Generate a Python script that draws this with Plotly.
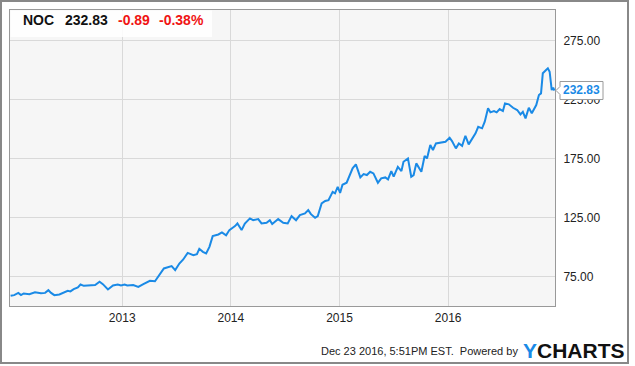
import plotly.graph_objects as go

# ---- data ----
dates = [
    "2011-12-23", "2012-01-04", "2012-01-18", "2012-01-27", "2012-02-05", "2012-02-24",
    "2012-03-14", "2012-04-03", "2012-04-17", "2012-04-28", "2012-05-07", "2012-05-18",
    "2012-06-04", "2012-06-21", "2012-07-02", "2012-07-11", "2012-07-22", "2012-08-05",
    "2012-08-14", "2012-08-25", "2012-09-07", "2012-10-02", "2012-10-17", "2012-10-28",
    "2012-11-14", "2012-12-01", "2012-12-17", "2012-12-28", "2013-01-09", "2013-01-18",
    "2013-02-07", "2013-02-24", "2013-03-13", "2013-04-04", "2013-04-21", "2013-05-06",
    "2013-05-21", "2013-06-16", "2013-06-28", "2013-07-12", "2013-07-25", "2013-08-09",
    "2013-08-28", "2013-09-09", "2013-09-17", "2013-09-29", "2013-10-10", "2013-10-21",
    "2013-11-01", "2013-11-20", "2013-12-02", "2013-12-16", "2013-12-27", "2014-01-15",
    "2014-01-23", "2014-02-06", "2014-02-17", "2014-03-06", "2014-03-17", "2014-04-03",
    "2014-04-14", "2014-05-01", "2014-05-12", "2014-05-20", "2014-06-09", "2014-06-26",
    "2014-07-11", "2014-07-24", "2014-08-08", "2014-08-21", "2014-09-07", "2014-09-18",
    "2014-09-27", "2014-10-11", "2014-10-20", "2014-11-02", "2014-11-14", "2014-11-25",
    "2014-11-30", "2014-12-09", "2014-12-17", "2014-12-26", "2015-01-03", "2015-01-11",
    "2015-01-25", "2015-02-06", "2015-02-14", "2015-02-25", "2015-03-12", "2015-03-23",
    "2015-04-03", "2015-04-14", "2015-04-25", "2015-05-10", "2015-05-21", "2015-06-04",
    "2015-06-13", "2015-06-24", "2015-07-02", "2015-07-16", "2015-07-28", "2015-08-04",
    "2015-08-19", "2015-08-30", "2015-09-07", "2015-09-16", "2015-10-03", "2015-10-14",
    "2015-10-22", "2015-11-02", "2015-11-11", "2015-11-21", "2015-12-11", "2015-12-23",
    "2016-01-06", "2016-01-14", "2016-01-27", "2016-02-06", "2016-02-17", "2016-02-28",
    "2016-03-10", "2016-03-24", "2016-04-02", "2016-04-11", "2016-04-24", "2016-05-03",
    "2016-05-14", "2016-05-22", "2016-06-03", "2016-06-12", "2016-06-22", "2016-07-03",
    "2016-07-10", "2016-07-23", "2016-08-06", "2016-08-20", "2016-08-31", "2016-09-08",
    "2016-09-17", "2016-09-28", "2016-10-08", "2016-10-23", "2016-11-01", "2016-11-08",
    "2016-11-14", "2016-11-25", "2016-12-01", "2016-12-07", "2016-12-14", "2016-12-19",
    "2016-12-23",
]
prices = [
    58.9, 59.5, 61.4, 59.5, 60.9, 60.3, 62.0, 61.2, 61.4, 63.7, 61.4, 59.5,
    60.1, 62.0, 63.2, 62.7, 64.6, 66.0, 68.5, 67.4, 67.7, 68.0, 70.8, 68.8,
    64.3, 67.7, 68.5, 67.7, 68.5, 67.7, 68.0, 66.5, 68.8, 71.6, 71.3, 76.4,
    82.1, 84.1, 80.7, 86.3, 89.7, 95.3, 93.4, 94.2, 98.7, 96.2, 94.8, 100.4,
    109.5, 110.9, 112.6, 110.1, 114.6, 118.0, 120.2, 114.6, 120.2, 124.5, 123.0, 123.9,
    120.2, 120.8, 123.0, 119.7, 123.9, 120.8, 120.2, 126.4, 123.0, 127.3, 128.7, 131.5,
    128.1, 125.0, 126.4, 137.2, 139.2, 140.0, 142.8, 147.0, 145.7, 151.3, 146.0, 153.0,
    154.7, 161.2, 166.9, 170.2, 159.2, 162.0, 161.2, 164.0, 162.6, 154.7, 158.4, 159.2,
    157.5, 164.6, 159.8, 168.2, 164.6, 172.5, 175.3, 159.8, 161.2, 171.1, 164.0, 177.3,
    175.3, 186.6, 182.4, 188.0, 188.6, 189.4, 192.8, 190.0, 183.8, 188.0, 186.0, 194.5,
    187.2, 193.6, 196.5, 202.1, 200.8, 206.4, 217.7, 214.3, 215.4, 214.3, 217.1, 215.4,
    221.9, 221.1, 218.2, 216.3, 212.6, 214.8, 209.2, 218.2, 213.5, 220.5, 229.0, 230.4,
    247.4, 250.2, 251.6, 248.7, 233.2, 235.2, 232.83,
]
ticker = "NOC"
last_price = "232.83"
change = "-0.89"
change_pct = "-0.38%"
y_ticks = [75, 125, 175, 225, 275]
x_ticks = ["2013-01-01", "2014-01-01", "2015-01-01", "2016-01-01"]
x_tick_labels = ["2013", "2014", "2015", "2016"]
footer = "Dec 23 2016, 5:51PM EST.  Powered by"

# ---- geometry helpers (pixel -> paper) ----
W, H = 635, 366
L, R, T, B = 10, 80, 10, 60
PW, PH = W - L - R, H - T - B
Y0, Y1 = 50.3, 301


def px(x):
    return (x - L) / PW


def py(y):
    return (H - B - y) / PH


def val_to_py(v):
    return T + (Y1 - v) / (Y1 - Y0) * PH


BLUE = "#1a8ae6"
FONT = "Liberation Sans, Arial, sans-serif"

fig = go.Figure()
fig.add_trace(go.Scatter(
    x=dates, y=prices, mode="lines",
    line=dict(color=BLUE, width=2), hoverinfo="skip", showlegend=False,
))

fig.update_layout(
    width=W, height=H,
    margin=dict(l=L, r=R, t=T, b=B),
    paper_bgcolor="white",
    plot_bgcolor="#f6f6f6",
    font=dict(family=FONT, size=12, color="#222"),
    xaxis=dict(
        type="date", range=["2011-12-21", "2016-12-25"],
        tickvals=x_ticks, ticktext=x_tick_labels,
        showgrid=True, gridcolor="#d9d9d9", gridwidth=1,
        showline=True, linecolor="#999", linewidth=1, mirror=True,
        ticks="", zeroline=False, ticklabelstandoff=1,
        tickfont=dict(size=12, color="#222"),
    ),
    yaxis=dict(
        side="right", range=[Y0, Y1],
        tickvals=y_ticks, ticktext=[f"{v:.2f}" for v in y_ticks],
        showgrid=True, gridcolor="#d9d9d9", gridwidth=1,
        showline=True, linecolor="#999", linewidth=1, mirror=True,
        ticks="", zeroline=False, ticklabelstandoff=5,
        tickfont=dict(size=12, color="#222"),
    ),
)

shapes = []
# outer border
shapes.append(dict(type="rect", xref="paper", yref="paper",
                   x0=px(1), x1=px(628), y0=py(363), y1=py(1),
                   line=dict(color="#888", width=2), fillcolor="rgba(0,0,0,0)", layer="above"))
# header box
shapes.append(dict(type="rect", xref="paper", yref="paper",
                   x0=px(10.5), x1=px(212), y0=py(37), y1=py(10.5),
                   line=dict(width=0), fillcolor="rgba(255,255,255,0.85)", layer="above"))
# last price callout with arrow, at last data value
last_val = prices[-1]
cy = val_to_py(last_val)
path = (f"M {px(556)} {py(cy)} L {px(560)} {py(cy - 4)} L {px(560)} {py(cy - 9)} "
        f"L {px(603)} {py(cy - 9)} L {px(603)} {py(cy + 9)} L {px(560)} {py(cy + 9)} "
        f"L {px(560)} {py(cy + 4)} Z")
shapes.append(dict(type="path", xref="paper", yref="paper", path=path,
                   fillcolor="white", line=dict(color="#9a9a9a", width=1), layer="above"))
fig.update_layout(shapes=shapes)

ann = []
hy = py(20)
ann.append(dict(text=f"<b>{ticker}</b>", x=px(20.5), y=hy, xanchor="left", yanchor="middle",
                font=dict(size=14, color="#111")))
ann.append(dict(text=f"<b>{last_price}</b>", x=px(62.5), y=hy, xanchor="left", yanchor="middle",
                font=dict(size=14, color="#111")))
ann.append(dict(text=f"<b>{change}</b>", x=px(115.5), y=hy, xanchor="left", yanchor="middle",
                font=dict(size=14, color="#f01414")))
ann.append(dict(text=f"<b>{change_pct}</b>", x=px(156.5), y=hy, xanchor="left", yanchor="middle",
                font=dict(size=14, color="#f01414")))
ann.append(dict(text=f"<b>{last_price}</b>", x=px(581.5), y=py(cy), xanchor="center", yanchor="middle",
                font=dict(size=12, color=BLUE)))
ann.append(dict(text=footer, x=px(519.5), y=py(351), xanchor="right", yanchor="middle",
                font=dict(size=11, color="#222")))
ann.append(dict(text=f"<b><span style='color:{BLUE}'>Y</span>CHARTS</b>", x=px(521), y=py(350),
                xanchor="left", yanchor="middle",
                font=dict(size=21, color="#111", family=FONT)))
for a in ann:
    a.update(xref="paper", yref="paper", showarrow=False)
fig.update_layout(annotations=ann)

fig.write_html("out.html", config={"displayModeBar": False},
               post_script="document.body.style.margin='0px';")
